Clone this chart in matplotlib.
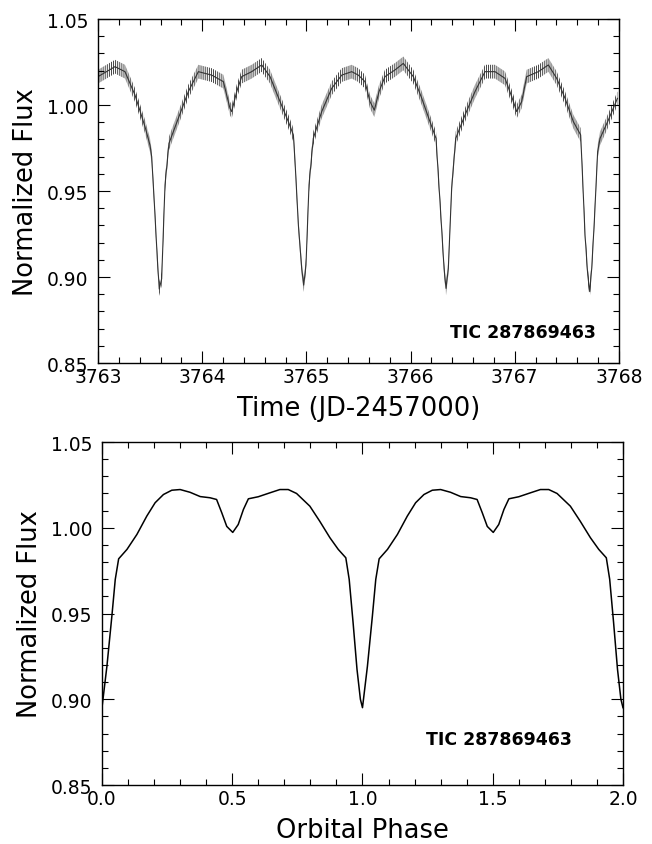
import matplotlib
matplotlib.use("Agg")
import matplotlib.pyplot as plt
import numpy as np
from matplotlib.ticker import MultipleLocator, FormatStrFormatter

# light curve (JD-2457000, normalized flux)
time = [3763.000, 3763.163, 3763.259, 3763.355, 3763.451, 3763.499, 3763.515, 3763.540,
        3763.569, 3763.588, 3763.611, 3763.643, 3763.681, 3763.771, 3763.867, 3763.963,
        3764.091, 3764.203, 3764.219, 3764.267, 3764.283, 3764.331, 3764.379, 3764.475,
        3764.571, 3764.651, 3764.747, 3764.827, 3764.875, 3764.891, 3764.923, 3764.955,
        3764.974, 3764.996, 3765.025, 3765.066, 3765.147, 3765.243, 3765.339, 3765.435,
        3765.498, 3765.562, 3765.610, 3765.652, 3765.697, 3765.754, 3765.850, 3765.930,
        3766.026, 3766.107, 3766.186, 3766.244, 3766.260, 3766.292, 3766.321, 3766.340,
        3766.362, 3766.394, 3766.433, 3766.522, 3766.618, 3766.714, 3766.810, 3766.906,
        3766.970, 3767.018, 3767.066, 3767.114, 3767.226, 3767.322, 3767.402, 3767.482,
        3767.562, 3767.632, 3767.648, 3767.674, 3767.700, 3767.719, 3767.738, 3767.763,
        3767.795, 3767.818, 3767.898, 3767.985]
flux_t = [1.0165, 1.0223, 1.0194, 1.0058, 0.9874, 0.9767, 0.9700, 0.9438,
          0.9109, 0.8930, 0.8990, 0.9535, 0.9777, 0.9923, 1.0078, 1.0194,
          1.0174, 1.0136, 1.0097, 0.9980, 0.9962, 1.0078, 1.0165, 1.0194,
          1.0233, 1.0165, 1.0020, 0.9903, 0.9826, 0.9670, 0.9302, 0.9050,
          0.8953, 0.9070, 0.9535, 0.9806, 0.9962, 1.0097, 1.0174, 1.0194,
          1.0174, 1.0136, 1.0020, 0.9970, 1.0078, 1.0165, 1.0204, 1.0242,
          1.0165, 1.0039, 0.9903, 0.9806, 0.9650, 0.9340, 0.9050, 0.8934,
          0.9050, 0.9516, 0.9806, 0.9942, 1.0078, 1.0194, 1.0194, 1.0155,
          1.0049, 0.9962, 1.0020, 1.0165, 1.0194, 1.0233, 1.0155, 1.0039,
          0.9903, 0.9826, 0.9613, 0.9244, 0.9012, 0.8915, 0.9050, 0.9322,
          0.9729, 0.9806, 0.9913, 1.0039]
scatter = 0.004  # approx. half-width of the noise band

# phase-folded curve, one cycle (plotted twice)
phase = [0.000, 0.019, 0.038, 0.051, 0.064, 0.096, 0.134, 0.172, 0.204, 0.236,
         0.268, 0.300, 0.338, 0.377, 0.415, 0.440, 0.460, 0.479, 0.502, 0.523,
         0.543, 0.562, 0.600, 0.645, 0.683, 0.715, 0.747, 0.798, 0.836, 0.875,
         0.907, 0.936, 0.949, 0.964, 0.979, 0.992, 1.000]
flux_p = [0.8951, 0.9193, 0.9485, 0.9699, 0.9819, 0.9874, 0.9961, 1.0068, 1.0146, 1.0194,
          1.0219, 1.0223, 1.0207, 1.0182, 1.0175, 1.0165, 1.0087, 1.0008, 0.9973, 1.0019,
          1.0107, 1.0169, 1.0181, 1.0204, 1.0223, 1.0223, 1.0200, 1.0126, 1.0038, 0.9942,
          0.9874, 0.9825, 0.9699, 0.9446, 0.9174, 0.9000, 0.8951]

star = 'TIC 287869463'

plt.rcParams['font.family'] = 'DejaVu Sans'
plt.rcParams['hatch.linewidth'] = 0.6

fig = plt.figure(figsize=(6.52, 8.45), dpi=100)
ax1 = fig.add_axes([0.1503, 0.5692, 0.7991, 0.4071])
ax2 = fig.add_axes([0.1564, 0.0698, 0.7991, 0.4059])

t = np.array(time)
f = np.array(flux_t)
ax1.fill_between(t, f - scatter, f + scatter, facecolor='none', edgecolor='0.15',
                 hatch='||||||||', linewidth=0)
ax1.plot(t, f, color='0.2', lw=0.8)

ph = np.array(phase)
fp = np.array(flux_p)
ax2.plot(np.concatenate([ph, ph[1:] + 1]), np.concatenate([fp, fp[1:]]),
         color='black', lw=1.1)

ax1.set_xlim(3763, 3768)
ax1.xaxis.set_major_locator(MultipleLocator(1))
ax1.xaxis.set_minor_locator(MultipleLocator(0.2))
ax1.xaxis.set_major_formatter(FormatStrFormatter('%d'))
ax1.set_xlabel('Time (JD-2457000)', fontsize=18.5, labelpad=6)

ax2.set_xlim(0, 2)
ax2.xaxis.set_major_locator(MultipleLocator(0.5))
ax2.xaxis.set_minor_locator(MultipleLocator(0.1))
ax2.xaxis.set_major_formatter(FormatStrFormatter('%.1f'))
ax2.set_xlabel('Orbital Phase', fontsize=18.5, labelpad=6)

for ax in (ax1, ax2):
    ax.set_ylim(0.85, 1.05)
    ax.yaxis.set_major_locator(MultipleLocator(0.05))
    ax.yaxis.set_minor_locator(MultipleLocator(0.01))
    ax.yaxis.set_major_formatter(FormatStrFormatter('%.2f'))
    ax.tick_params(which='both', direction='in', top=True, right=True,
                   width=0.8, labelsize=13.5, color='black')
    ax.tick_params(which='major', length=8.5)
    ax.tick_params(which='minor', length=4.3)
    ax.tick_params(axis='y', pad=7)
    ax.tick_params(axis='x', pad=3)
    for s in ax.spines.values():
        s.set_linewidth(1.0)
    ax.set_ylabel('Normalized Flux', fontsize=18.5)
    ax.yaxis.set_label_coords(-0.113, 0.5)

ax1.text(0.955, 0.075, star, transform=ax1.transAxes, ha='right', va='baseline',
         fontsize=12.5, fontweight='bold')
ax2.text(0.902, 0.12, star, transform=ax2.transAxes, ha='right', va='baseline',
         fontsize=12.5, fontweight='bold')

fig.savefig('out.png', dpi=100)
